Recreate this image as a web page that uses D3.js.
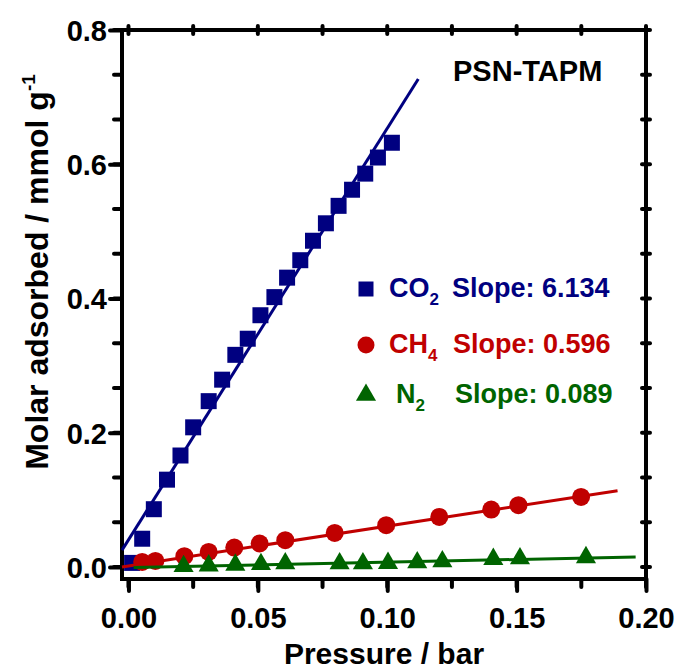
<!DOCTYPE html>
<html>
<head>
<meta charset="utf-8">
<script src="https://cdn.jsdelivr.net/npm/d3@7"></script>
<style>
  body { margin: 0; background: #fff; }
  svg text { font-family: "Liberation Sans", Arial, sans-serif; font-weight: bold; }
</style>
</head>
<body>
<div id="chart"></div>
<script>
// data (pressure in bar, uptake in mmol/g)
var co2X = [0.0014, 0.0053, 0.0098, 0.0149, 0.0201, 0.0250, 0.0310, 0.0362, 0.0413, 0.0461, 0.0510,
            0.0564, 0.0613, 0.0664, 0.0713, 0.0763, 0.0812, 0.0864, 0.0915, 0.0964, 0.1018];
var co2Y = [0.006, 0.042, 0.086, 0.130, 0.166, 0.208, 0.247, 0.279, 0.316, 0.340, 0.375,
            0.402, 0.431, 0.457, 0.486, 0.512, 0.538, 0.562, 0.586, 0.610, 0.632];

var ch4X = [0.0053, 0.0104, 0.0216, 0.0310, 0.0409, 0.0507, 0.0606, 0.0797, 0.0996, 0.1201, 0.1402, 0.1507, 0.1749];
var ch4Y = [0.0075, 0.0089, 0.016, 0.0224, 0.0289, 0.0349, 0.0398, 0.0507, 0.0622, 0.0745, 0.0855, 0.092, 0.1043];

var n2X = [0.0213, 0.0310, 0.0413, 0.0512, 0.0606, 0.0816, 0.0906, 0.1003, 0.1116, 0.1213, 0.1410, 0.1513, 0.1768];
var n2Y = [0.001, 0.002, 0.003, 0.004, 0.005, 0.005, 0.005, 0.0055, 0.0065, 0.008, 0.0115, 0.0125, 0.0142];

// linear fit end points
var co2FitX = [-0.0025, 0.112], co2FitY = [0.025, 0.727];
var ch4FitX = [-0.0025, 0.189], ch4FitY = [0.0, 0.1136];
var n2FitX = [0.002, 0.196], n2FitY = [-0.001, 0.0149];

var gasNames = [['CO', '2'], ['CH', '4'], ['N', '2']];
var slopeLabels = ['Slope: 6.134', 'Slope: 0.596', 'Slope: 0.089'];
var xTicks = [0, 0.05, 0.10, 0.15, 0.20];
var yTicks = [0, 0.2, 0.4, 0.6, 0.8];
var sampleName = 'PSN-TAPM';

var colors = ['#000080', '#c00000', '#006400'];

var width = 681, height = 669;
var pLeft = 122, pRight = 646, pTop = 30, pBottom = 579;

var x = d3.scaleLinear().domain([-0.0025, 0.2]).range([pLeft, pRight]);
var y = d3.scaleLinear().domain([-0.018, 0.8]).range([pBottom, pTop]);

var svg = d3.select('#chart').append('svg')
  .attr('width', width).attr('height', height);

var xMinor = d3.range(0, 0.2001, 0.025);
var yMinor = d3.range(0, 0.8001, 0.2 / 3);

// bottom axis
var xAxis = d3.axisBottom(x).tickValues(xTicks).tickSize(12).tickPadding(8)
  .tickFormat(d3.format('.2f'));
var gx = svg.append('g').attr('transform', 'translate(0,' + pBottom + ')');
gx.call(xAxis);
gx.append('g').selectAll('line').data(xMinor).enter().append('line')
  .attr('x1', function(d) { return x(d); }).attr('x2', function(d) { return x(d); })
  .attr('y1', 0).attr('y2', 8);

// left axis
var yAxis = d3.axisLeft(y).tickValues(yTicks).tickSize(12).tickPadding(3)
  .tickFormat(d3.format('.1f'));
var gy = svg.append('g').attr('transform', 'translate(' + pLeft + ',0)');
gy.call(yAxis);
gy.append('g').selectAll('line').data(yMinor).enter().append('line')
  .attr('x1', 0).attr('x2', -8)
  .attr('y1', function(d) { return y(d); }).attr('y2', function(d) { return y(d); });

// top and right mirror ticks (tiny nubs)
svg.append('g').selectAll('line').data(xMinor).enter().append('line')
  .attr('x1', function(d) { return x(d); }).attr('x2', function(d) { return x(d); })
  .attr('y1', pTop - 4).attr('y2', pTop + 4);
svg.append('g').selectAll('line').data(yMinor).enter().append('line')
  .attr('x1', pRight - 4).attr('x2', pRight + 4)
  .attr('y1', function(d) { return y(d); }).attr('y2', function(d) { return y(d); });

[gx, gy].forEach(function(g) {
  g.select('.domain').remove();
  g.selectAll('text').attr('fill', '#000').style('font-size', '29px')
    .style('font-family', '"Liberation Sans", Arial, sans-serif').style('font-weight', 'bold');
});
gx.selectAll('.tick text').attr('dy', '1.0em');
gy.selectAll('.tick text').attr('dy', '0.36em');

svg.selectAll('line').attr('stroke', '#000').attr('stroke-width', 4).attr('stroke-linecap', 'round');

// frame
svg.append('rect')
  .attr('x', pLeft).attr('y', pTop)
  .attr('width', pRight - pLeft).attr('height', pBottom - pTop)
  .attr('fill', 'none').attr('stroke', '#000').attr('stroke-width', 4);

// series
var series = [
  {xs: co2X, ys: co2Y, fx: co2FitX, fy: co2FitY, sym: d3.symbolSquare, size: 256},
  {xs: ch4X, ys: ch4Y, fx: ch4FitX, fy: ch4FitY, sym: d3.symbolCircle, size: Math.PI * 81},
  {xs: n2X, ys: n2Y, fx: n2FitX, fy: n2FitY, sym: d3.symbolTriangle, size: 175}
];

var line = d3.line()
  .x(function(d) { return x(d[0]); })
  .y(function(d) { return y(d[1]); });

series.forEach(function(s, i) {
  var g = svg.append('g');
  g.append('g').selectAll('path').data(d3.zip(s.xs, s.ys)).enter().append('path')
    .attr('d', d3.symbol().type(s.sym).size(s.size))
    .attr('transform', function(d) { return 'translate(' + x(d[0]) + ',' + y(d[1]) + ')'; })
    .attr('fill', colors[i]);
  g.append('path')
    .datum(d3.zip(s.fx, s.fy))
    .attr('d', line)
    .attr('fill', 'none')
    .attr('stroke', colors[i])
    .attr('stroke-width', 3);
});

// legend
var legendY = [289, 345, 395];
var legendSym = [
  d3.symbol().type(d3.symbolSquare).size(225),
  d3.symbol().type(d3.symbolCircle).size(Math.PI * 72),
  d3.symbol().type(d3.symbolTriangle).size(175)
];
var nameX = [389, 389, 396];
var slopeX = [452, 453, 455];

var lg = svg.append('g');
legendY.forEach(function(ly, i) {
  lg.append('path').attr('d', legendSym[i]).attr('fill', colors[i])
    .attr('transform', 'translate(366,' + ly + ')');
  var t = lg.append('text').attr('x', nameX[i]).attr('y', ly + 8)
    .attr('fill', colors[i]).style('font-size', '27px');
  t.append('tspan').text(gasNames[i][0]);
  t.append('tspan').attr('dy', 8).style('font-size', '17px').text(gasNames[i][1]);
  lg.append('text').attr('x', slopeX[i]).attr('y', ly + 8)
    .attr('fill', colors[i]).style('font-size', '27px').text(slopeLabels[i]);
});

svg.append('text').attr('x', 453).attr('y', 81)
  .style('font-size', '29px').text(sampleName);

// axis titles
svg.append('text')
  .attr('x', (pLeft + pRight) / 2).attr('y', 664)
  .attr('text-anchor', 'middle').style('font-size', '30px')
  .text('Pressure / bar');

var yt = svg.append('text')
  .attr('transform', 'translate(48,' + 272 + ') rotate(-90)')
  .attr('text-anchor', 'middle').style('font-size', '32px');
yt.append('tspan').text('Molar adsorbed / mmol g');
yt.append('tspan').attr('dy', -13).style('font-size', '19px').text('-1');
</script>
</body>
</html>
